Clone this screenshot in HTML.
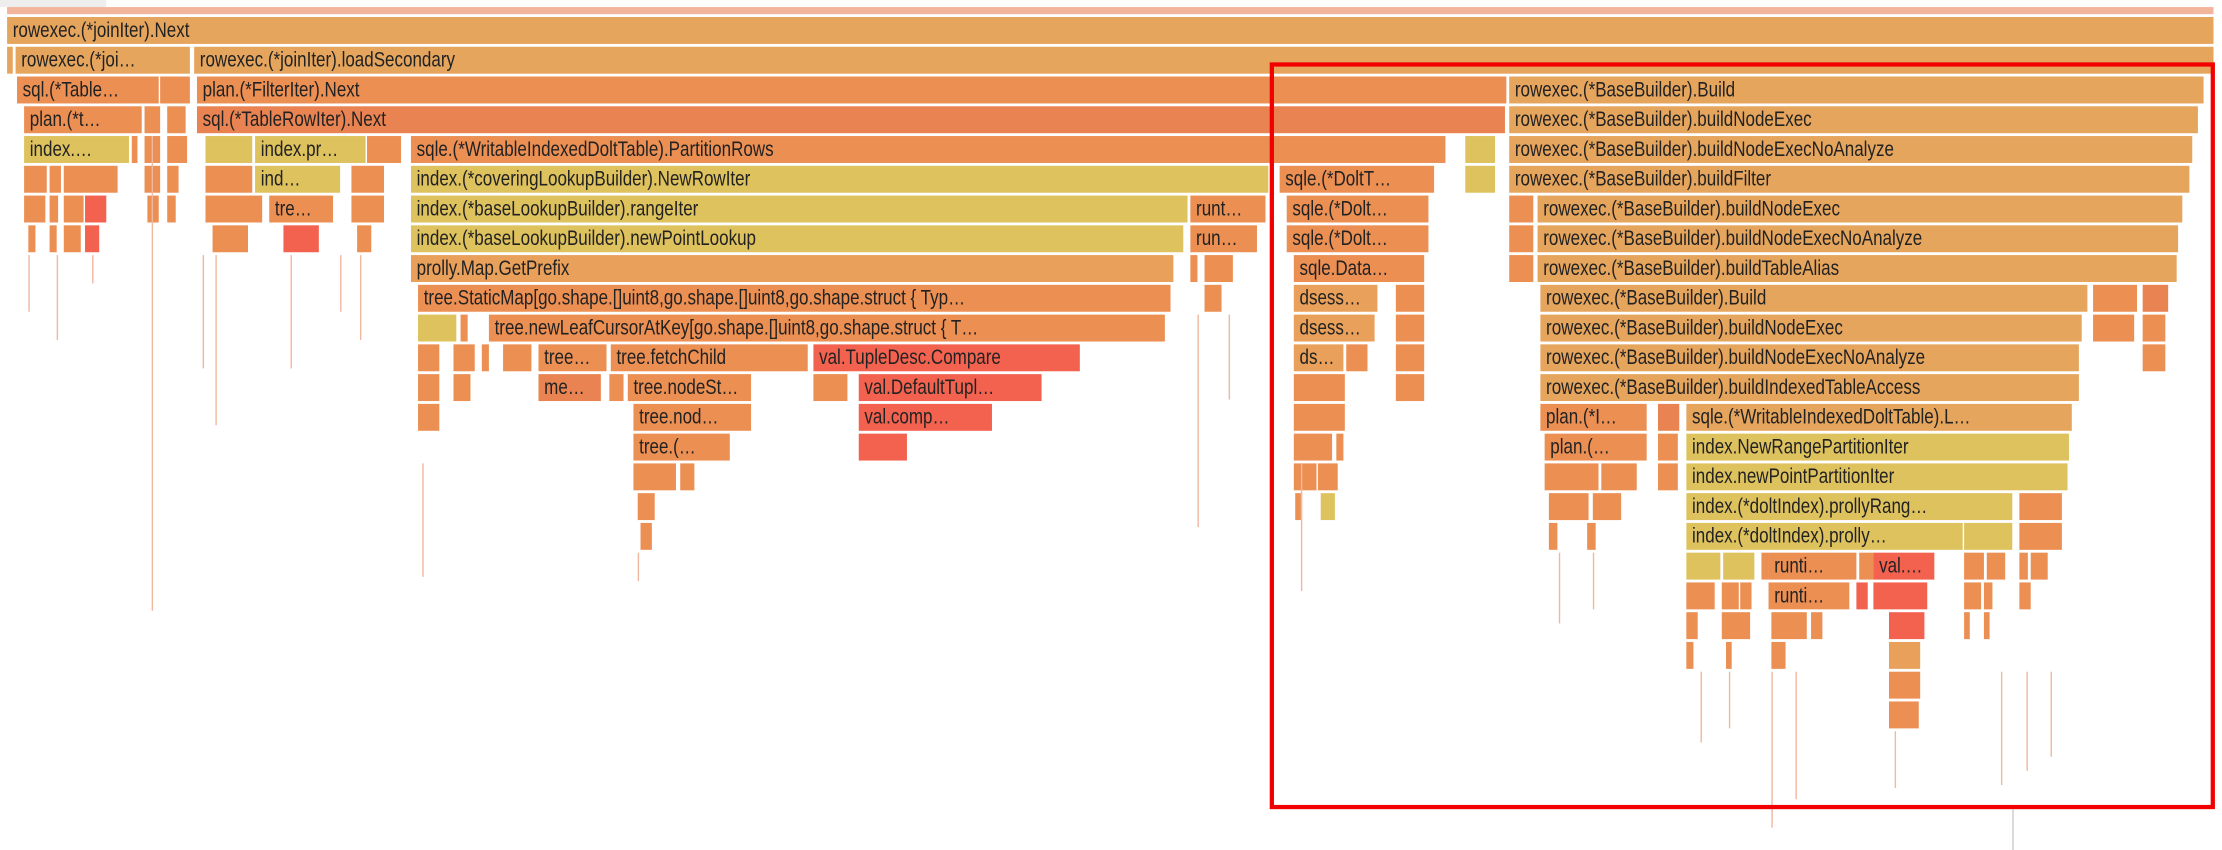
<!DOCTYPE html>
<html><head><meta charset="utf-8"><style>
html,body{margin:0;padding:0;background:#fff;width:2222px;height:850px;overflow:hidden}
#w{position:absolute;left:0;top:0;width:1568px;height:600px;transform:scale(1.4171);transform-origin:0 0}
.b{position:absolute;height:19px;overflow:hidden;white-space:nowrap;background:#ec8f53;font-family:"Liberation Sans",sans-serif;font-size:15px;line-height:19px;color:#222;box-sizing:border-box}
.b span{display:inline-block;transform:scaleX(.8);transform-origin:0 50%;padding-left:5px}
.o{background:#ec8f53}.a{background:#e6a55d}.y{background:#dec25e}.r{background:#f3624f}.d{background:#ea8352}.l{background:#e8a05a}
.t{position:absolute;width:1px;background:#f0b8a0}
.r0{top:12px}.r1{top:33px}.r2{top:54px}.r3{top:75px}.r4{top:96px}.r5{top:117px}.r6{top:138px}.r7{top:159px}.r8{top:180px}.r9{top:201px}.r10{top:222px}.r11{top:243px}.r12{top:264px}.r13{top:285px}.r14{top:306px}.r15{top:327px}.r16{top:348px}.r17{top:369px}.r18{top:390px}.r19{top:411px}.r20{top:432px}.r21{top:453px}.r22{top:474px}.r23{top:495px}
</style></head><body><div id="w">
<div style="position:absolute;left:0;top:0;width:75px;height:5px;background:#eee"></div>
<div style="position:absolute;left:5px;top:5px;width:1557px;height:5px;background:#f2b49b"></div>
<div class="b a r0" style="left:5px;width:1557px"><span>rowexec.(*joinIter).Next</span></div>
<div class="b a r1" style="left:5px;width:4px"></div>
<div class="b a r1" style="left:11px;width:123px"><span>rowexec.(*joi…</span></div>
<div class="b a r1" style="left:137px;width:1425px"><span>rowexec.(*joinIter).loadSecondary</span></div>
<div class="b o r2" style="left:12px;width:100px"><span>sql.(*Table…</span></div>
<div class="b o r2" style="left:113px;width:21px"></div>
<div class="b o r2" style="left:139px;width:924px"><span>plan.(*FilterIter).Next</span></div>
<div class="b a r2" style="left:1065px;width:490px"><span>rowexec.(*BaseBuilder).Build</span></div>
<div class="b o r3" style="left:17px;width:83px"><span>plan.(*t…</span></div>
<div class="b o r3" style="left:102px;width:11px"></div>
<div class="b o r3" style="left:118px;width:13px"></div>
<div class="b d r3" style="left:139px;width:923px"><span>sql.(*TableRowIter).Next</span></div>
<div class="b a r3" style="left:1065px;width:486px"><span>rowexec.(*BaseBuilder).buildNodeExec</span></div>
<div class="b y r4" style="left:17px;width:74px"><span>index.…</span></div>
<div class="b o r4" style="left:93px;width:4px"></div>
<div class="b o r4" style="left:102px;width:11px"></div>
<div class="b o r4" style="left:118px;width:14px"></div>
<div class="b y r4" style="left:145px;width:33px"></div>
<div class="b y r4" style="left:180px;width:78px"><span>index.pr…</span></div>
<div class="b o r4" style="left:259px;width:24px"></div>
<div class="b o r4" style="left:290px;width:730px"><span>sqle.(*WritableIndexedDoltTable).PartitionRows</span></div>
<div class="b y r4" style="left:1034px;width:21px"></div>
<div class="b a r4" style="left:1065px;width:482px"><span>rowexec.(*BaseBuilder).buildNodeExecNoAnalyze</span></div>
<div class="b o r5" style="left:17px;width:16px"></div><div class="b o r5" style="left:35px;width:8px"></div><div class="b o r5" style="left:45px;width:38px"></div>
<div class="b o r5" style="left:102px;width:11px"></div><div class="b o r5" style="left:118px;width:8px"></div>
<div class="b o r5" style="left:145px;width:33px"></div>
<div class="b y r5" style="left:180px;width:60px"><span>ind…</span></div>
<div class="b o r5" style="left:248px;width:23px"></div>
<div class="b y r5" style="left:290px;width:605px"><span>index.(*coveringLookupBuilder).NewRowIter</span></div>
<div class="b o r5" style="left:903px;width:109px"><span>sqle.(*DoltT…</span></div>
<div class="b y r5" style="left:1034px;width:21px"></div>
<div class="b a r5" style="left:1065px;width:480px"><span>rowexec.(*BaseBuilder).buildFilter</span></div>
<div class="b o r6" style="left:17px;width:15px"></div><div class="b o r6" style="left:35px;width:6px"></div><div class="b o r6" style="left:45px;width:14px"></div><div class="b r r6" style="left:60px;width:15px"></div>
<div class="b o r6" style="left:104px;width:8px"></div><div class="b o r6" style="left:118px;width:6px"></div>
<div class="b o r6" style="left:145px;width:40px"></div>
<div class="b o r6" style="left:190px;width:45px"><span>tre…</span></div>
<div class="b o r6" style="left:248px;width:23px"></div>
<div class="b y r6" style="left:290px;width:548px"><span>index.(*baseLookupBuilder).rangeIter</span></div>
<div class="b o r6" style="left:840px;width:53px"><span>runt…</span></div>
<div class="b o r6" style="left:908px;width:100px"><span>sqle.(*Dolt…</span></div>
<div class="b o r6" style="left:1065px;width:17px"></div>
<div class="b a r6" style="left:1085px;width:455px"><span>rowexec.(*BaseBuilder).buildNodeExec</span></div>
<div class="b o r7" style="left:20px;width:5px"></div><div class="b o r7" style="left:35px;width:5px"></div><div class="b o r7" style="left:45px;width:12px"></div><div class="b r r7" style="left:60px;width:10px"></div>
<div class="b o r7" style="left:150px;width:25px"></div><div class="b r r7" style="left:200px;width:25px"></div><div class="b o r7" style="left:252px;width:10px"></div>
<div class="b y r7" style="left:290px;width:545px"><span>index.(*baseLookupBuilder).newPointLookup</span></div>
<div class="b o r7" style="left:840px;width:47px"><span>run…</span></div>
<div class="b o r7" style="left:908px;width:100px"><span>sqle.(*Dolt…</span></div>
<div class="b o r7" style="left:1065px;width:17px"></div>
<div class="b a r7" style="left:1085px;width:452px"><span>rowexec.(*BaseBuilder).buildNodeExecNoAnalyze</span></div>
<div class="b l r8" style="left:290px;width:538px"><span>prolly.Map.GetPrefix</span></div>
<div class="b o r8" style="left:840px;width:5px"></div><div class="b o r8" style="left:850px;width:20px"></div>
<div class="b o r8" style="left:913px;width:92px"><span>sqle.Data…</span></div>
<div class="b o r8" style="left:1065px;width:17px"></div>
<div class="b a r8" style="left:1085px;width:451px"><span>rowexec.(*BaseBuilder).buildTableAlias</span></div>
<div class="b o r9" style="left:295px;width:531px"><span>tree.StaticMap[go.shape.[]uint8,go.shape.[]uint8,go.shape.struct { Typ…</span></div>
<div class="b o r9" style="left:850px;width:12px"></div>
<div class="b l r9" style="left:913px;width:59px"><span>dsess…</span></div>
<div class="b o r9" style="left:985px;width:20px"></div>
<div class="b a r9" style="left:1087px;width:386px"><span>rowexec.(*BaseBuilder).Build</span></div>
<div class="b o r9" style="left:1477px;width:31px"></div><div class="b d r9" style="left:1512px;width:18px"></div>
<div class="b y r10" style="left:295px;width:27px"></div><div class="b o r10" style="left:325px;width:5px"></div>
<div class="b o r10" style="left:345px;width:477px"><span>tree.newLeafCursorAtKey[go.shape.[]uint8,go.shape.struct { T…</span></div>
<div class="b l r10" style="left:913px;width:57px"><span>dsess…</span></div>
<div class="b o r10" style="left:985px;width:20px"></div>
<div class="b a r10" style="left:1087px;width:382px"><span>rowexec.(*BaseBuilder).buildNodeExec</span></div>
<div class="b o r10" style="left:1477px;width:29px"></div><div class="b o r10" style="left:1512px;width:16px"></div>
<div class="b o r11" style="left:295px;width:15px"></div><div class="b o r11" style="left:320px;width:15px"></div><div class="b o r11" style="left:340px;width:5px"></div><div class="b o r11" style="left:355px;width:20px"></div>
<div class="b o r11" style="left:380px;width:48px"><span>tree…</span></div>
<div class="b o r11" style="left:431px;width:139px"><span>tree.fetchChild</span></div>
<div class="b r r11" style="left:574px;width:188px"><span>val.TupleDesc.Compare</span></div>
<div class="b l r11" style="left:913px;width:35px"><span>ds…</span></div>
<div class="b o r11" style="left:950px;width:15px"></div><div class="b o r11" style="left:985px;width:20px"></div>
<div class="b a r11" style="left:1087px;width:380px"><span>rowexec.(*BaseBuilder).buildNodeExecNoAnalyze</span></div>
<div class="b o r11" style="left:1512px;width:16px"></div>
<div class="b o r12" style="left:295px;width:15px"></div><div class="b o r12" style="left:320px;width:12px"></div>
<div class="b d r12" style="left:380px;width:44px"><span>me…</span></div>
<div class="b o r12" style="left:430px;width:10px"></div>
<div class="b o r12" style="left:443px;width:87px"><span>tree.nodeSt…</span></div>
<div class="b o r12" style="left:574px;width:24px"></div>
<div class="b r r12" style="left:606px;width:129px"><span>val.DefaultTupl…</span></div>
<div class="b o r12" style="left:913px;width:36px"></div><div class="b o r12" style="left:985px;width:20px"></div>
<div class="b a r12" style="left:1087px;width:380px"><span>rowexec.(*BaseBuilder).buildIndexedTableAccess</span></div>
<div class="b o r13" style="left:295px;width:15px"></div>
<div class="b o r13" style="left:447px;width:83px"><span>tree.nod…</span></div>
<div class="b r r13" style="left:606px;width:94px"><span>val.comp…</span></div>
<div class="b o r13" style="left:913px;width:36px"></div>
<div class="b o r13" style="left:1087px;width:75px"><span>plan.(*I…</span></div>
<div class="b d r13" style="left:1170px;width:15px"></div>
<div class="b a r13" style="left:1190px;width:272px"><span>sqle.(*WritableIndexedDoltTable).L…</span></div>
<div class="b o r14" style="left:447px;width:68px"><span>tree.(…</span></div>
<div class="b r r14" style="left:606px;width:34px"></div>
<div class="b o r14" style="left:913px;width:27px"></div><div class="b o r14" style="left:943px;width:5px"></div>
<div class="b o r14" style="left:1090px;width:72px"><span>plan.(…</span></div>
<div class="b o r14" style="left:1170px;width:14px"></div>
<div class="b y r14" style="left:1190px;width:270px"><span>index.NewRangePartitionIter</span></div>
<div class="b o r15" style="left:447px;width:30px"></div><div class="b o r15" style="left:480px;width:10px"></div>
<div class="b o r15" style="left:913px;width:16px"></div><div class="b o r15" style="left:930px;width:14px"></div>
<div class="b o r15" style="left:1090px;width:38px"></div><div class="b o r15" style="left:1130px;width:25px"></div>
<div class="b o r15" style="left:1170px;width:14px"></div>
<div class="b y r15" style="left:1190px;width:269px"><span>index.newPointPartitionIter</span></div>
<div class="b o r16" style="left:450px;width:12px"></div>
<div class="b o r16" style="left:914px;width:4px"></div><div class="b y r16" style="left:932px;width:10px"></div>
<div class="b o r16" style="left:1093px;width:28px"></div><div class="b o r16" style="left:1124px;width:20px"></div>
<div class="b y r16" style="left:1190px;width:230px"><span>index.(*doltIndex).prollyRang…</span></div>
<div class="b o r16" style="left:1425px;width:30px"></div>
<div class="b o r17" style="left:452px;width:8px"></div>
<div class="b o r17" style="left:1093px;width:6px"></div><div class="b o r17" style="left:1120px;width:6px"></div>
<div class="b y r17" style="left:1190px;width:195px"><span>index.(*doltIndex).prolly…</span></div>
<div class="b y r17" style="left:1386px;width:34px"></div>
<div class="b o r17" style="left:1425px;width:30px"></div>
<div class="b y r18" style="left:1190px;width:24px"></div><div class="b y r18" style="left:1216px;width:22px"></div>
<div class="b o r18" style="left:1243px;width:5px"></div>
<div class="b o r18" style="left:1248px;width:62px"><span>runti…</span></div>
<div class="b o r18" style="left:1312px;width:10px"></div>
<div class="b r r18" style="left:1322px;width:43px"><span>val.…</span></div>
<div class="b o r18" style="left:1386px;width:14px"></div><div class="b o r18" style="left:1402px;width:13px"></div>
<div class="b o r18" style="left:1425px;width:6px"></div><div class="b o r18" style="left:1433px;width:12px"></div>
<div class="b o r19" style="left:1190px;width:20px"></div><div class="b o r19" style="left:1215px;width:12px"></div><div class="b o r19" style="left:1228px;width:8px"></div>
<div class="b o r19" style="left:1248px;width:57px"><span>runti…</span></div>
<div class="b r r19" style="left:1310px;width:8px"></div>
<div class="b r r19" style="left:1322px;width:38px"></div>
<div class="b o r19" style="left:1386px;width:12px"></div><div class="b o r19" style="left:1400px;width:6px"></div>
<div class="b o r19" style="left:1425px;width:8px"></div>
<div class="b o r20" style="left:1190px;width:8px"></div><div class="b o r20" style="left:1215px;width:20px"></div>
<div class="b o r20" style="left:1250px;width:25px"></div><div class="b o r20" style="left:1278px;width:8px"></div>
<div class="b r r20" style="left:1333px;width:25px"></div>
<div class="b o r20" style="left:1386px;width:4px"></div><div class="b o r20" style="left:1400px;width:4px"></div>
<div class="b o r21" style="left:1190px;width:5px"></div><div class="b o r21" style="left:1218px;width:4px"></div>
<div class="b o r21" style="left:1250px;width:10px"></div>
<div class="b l r21" style="left:1333px;width:22px"></div>
<div class="b o r22" style="left:1333px;width:22px"></div>
<div class="b o r23" style="left:1333px;width:21px"></div>
<div class="t" style="left:107px;top:96px;height:335px"></div>
<div class="t" style="left:20px;top:180px;height:40px"></div>
<div class="t" style="left:40px;top:180px;height:60px"></div>
<div class="t" style="left:65px;top:180px;height:20px"></div>
<div class="t" style="left:143px;top:180px;height:80px"></div>
<div class="t" style="left:152px;top:180px;height:120px"></div>
<div class="t" style="left:205px;top:180px;height:80px"></div>
<div class="t" style="left:240px;top:180px;height:40px"></div>
<div class="t" style="left:254px;top:180px;height:60px"></div>
<div class="t" style="left:298px;top:327px;height:80px"></div>
<div class="t" style="left:450px;top:390px;height:20px"></div>
<div class="t" style="left:845px;top:222px;height:150px"></div>
<div class="t" style="left:867px;top:222px;height:60px"></div>
<div class="t" style="left:918px;top:327px;height:90px"></div>
<div class="t" style="left:1100px;top:390px;height:50px"></div>
<div class="t" style="left:1124px;top:390px;height:40px"></div>
<div class="t" style="left:1200px;top:474px;height:50px"></div>
<div class="t" style="left:1220px;top:474px;height:40px"></div>
<div class="t" style="left:1250px;top:474px;height:110px"></div>
<div class="t" style="left:1267px;top:474px;height:90px"></div>
<div class="t" style="left:1337px;top:516px;height:40px"></div>
<div class="t" style="left:1412px;top:474px;height:80px"></div>
<div class="t" style="left:1430px;top:474px;height:70px"></div>
<div class="t" style="left:1447px;top:474px;height:60px"></div>
<div style="position:absolute;left:1420px;top:571px;width:1px;height:29px;background:#ccc"></div>
<div style="position:absolute;left:896px;top:44px;width:661px;height:521px;border:3px solid #f20000"></div>
</div></body></html>
